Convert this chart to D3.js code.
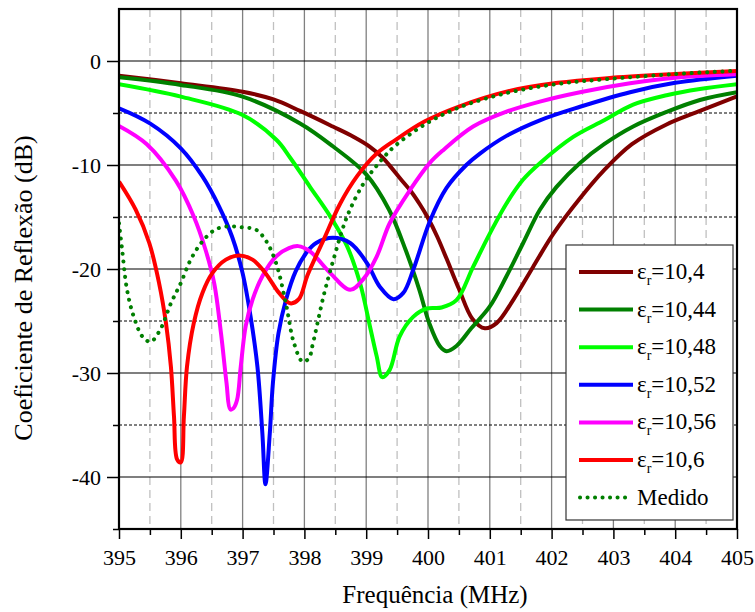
<!DOCTYPE html>
<html><head><meta charset="utf-8">
<script src="https://cdn.jsdelivr.net/npm/d3@7"></script>
<style>body{margin:0;background:#fff}svg{display:block}text{font-family:"Liberation Serif","Times New Roman",serif;fill:#000}</style>
</head><body>
<svg id="c" width="755" height="612"></svg>
<script>
// ---- data ----
const xTicks = [395,396,397,398,399,400,401,402,403,404,405];
const yTicks = [0,-10,-20,-30,-40];
const legendLabels = ["10,4","10,44","10,48","10,52","10,56","10,6"];
const seriesColors = ["#800000","#008000","#00ff00","#0000ff","#ff00ff","#ff0000"];
const measuredLabel = "Medido";

const er104 = [[395,-1.41],[396,-2.14],[397,-2.95],[397.5,-3.7],[397.93,-4.8],[398.46,-6.3],[398.8,-7.3],[399.05,-8.2],[399.25,-9.2],[399.4,-10.2],[399.55,-11.3],[399.72,-12.5],[399.87,-13.8],[400.0,-15.1],[400.15,-16.9],[400.3,-19.0],[400.5,-21.9],[400.72,-24.8],[400.92,-25.7],[401.11,-25.2],[401.38,-22.96],[401.7,-19.8],[402.03,-16.6],[402.46,-13.2],[402.85,-10.5],[403.3,-8.0],[403.86,-6.1],[404.4,-4.8],[405,-3.4]];
const er1044 = [[395,-1.57],[396,-2.3],[397,-3.43],[397.93,-6.0],[398.46,-8.2],[399,-10.9],[399.37,-14.3],[399.64,-18.2],[399.86,-22.0],[400.02,-25.2],[400.19,-27.4],[400.3,-27.9],[400.46,-27.4],[400.7,-25.7],[401.0,-23.6],[401.27,-20.7],[401.54,-17.5],[401.81,-14.3],[402.08,-12.1],[402.46,-9.8],[402.85,-8.0],[403.32,-6.3],[403.86,-4.9],[404.4,-3.75],[405,-3.0]];
const er1048 = [[395,-2.24],[396,-3.43],[397,-5.2],[397.55,-7.6],[397.77,-9.3],[398.09,-12.1],[398.42,-14.96],[398.69,-17.8],[398.9,-21.35],[399.06,-25.5],[399.17,-28.4],[399.26,-30.4],[399.38,-29.7],[399.54,-26.5],[399.76,-24.6],[399.98,-23.8],[400.22,-23.7],[400.46,-23.0],[400.73,-19.8],[401.0,-16.6],[401.27,-13.7],[401.54,-11.4],[401.81,-9.83],[402.35,-7.3],[402.85,-5.7],[403.32,-4.2],[403.86,-3.3],[404.4,-2.7],[405,-2.24]];
const er1052 = [[395,-4.55],[395.5,-6.0],[396,-8.4],[396.35,-11.1],[396.62,-14.0],[396.83,-16.9],[397.0,-20.4],[397.13,-24.6],[397.24,-29.4],[397.32,-35.8],[397.37,-40.7],[397.44,-35.8],[397.49,-31.0],[397.58,-26.2],[397.70,-23.0],[397.86,-20.2],[398.05,-18.3],[398.19,-17.5],[398.46,-17.0],[398.74,-17.5],[399.01,-19.4],[399.22,-21.7],[399.44,-22.9],[399.6,-22.3],[399.76,-20.1],[400.03,-15.4],[400.3,-12.2],[400.62,-10.0],[400.84,-8.9],[401.27,-7.2],[401.81,-5.7],[402.46,-4.4],[403.27,-3.0],[404,-2.1],[405,-1.41]];
const er1056 = [[395,-6.24],[395.45,-8.0],[395.92,-11.5],[396.21,-14.95],[396.40,-18.15],[396.54,-21.35],[396.65,-26.16],[396.74,-30.96],[396.8,-33.5],[396.85,-33.4],[396.91,-32.6],[396.97,-29.4],[397.05,-25.5],[397.16,-22.96],[397.32,-20.7],[397.54,-18.8],[397.75,-18.0],[397.9,-17.8],[398.09,-18.3],[398.42,-20.4],[398.74,-22.0],[398.95,-21.0],[399.17,-18.8],[399.38,-15.6],[399.71,-12.4],[400.03,-9.8],[400.25,-8.55],[400.73,-6.3],[401.27,-4.87],[401.81,-3.9],[402.46,-3.0],[403.27,-2.14],[404,-1.6],[405,-1.28]];
const er106 = [[395,-11.6],[395.27,-14.3],[395.49,-17.5],[395.65,-21.4],[395.76,-25.2],[395.84,-29.4],[395.89,-34.2],[395.94,-38.3],[396.0,-38.6],[396.05,-34.2],[396.1,-29.4],[396.21,-25.2],[396.35,-22.3],[396.51,-20.4],[396.73,-19.1],[396.94,-18.7],[397.16,-19.1],[397.37,-20.4],[397.59,-22.3],[397.77,-23.3],[397.91,-22.9],[398.05,-20.6],[398.31,-17.2],[398.58,-13.7],[398.85,-11.1],[399.17,-8.9],[399.47,-7.6],[399.95,-5.8],[400.49,-4.4],[401.3,-2.9],[402.1,-2.1],[402.9,-1.65],[404.0,-1.25],[405.0,-0.95]];
const medido = [[395,-15.6],[395.05,-18.1],[395.13,-22.0],[395.24,-24.6],[395.38,-26.5],[395.51,-27.0],[395.67,-25.8],[395.84,-23.3],[396.0,-21.35],[396.16,-19.1],[396.35,-17.35],[396.56,-16.2],[396.78,-15.9],[397.0,-16.0],[397.21,-16.2],[397.37,-17.2],[397.54,-19.4],[397.7,-23.3],[397.83,-27.1],[397.97,-28.9],[398.07,-28.6],[398.14,-27.1],[398.31,-22.6],[398.47,-19.1],[398.69,-14.96],[398.96,-11.75],[399.22,-9.7],[399.46,-8.2],[399.95,-6.1],[400.49,-4.5],[401.3,-3.04],[402.11,-2.2],[402.92,-1.73],[404.0,-1.25],[405,-0.93]];

const seriesList = [er104, er1044, er1048, er1052, er1056, er106];

// ---- layout ----
const L = 119, R = 737, T = 9, B = 529;
const svg = d3.select("#c");
const x = d3.scaleLinear().domain([395,405]).range([L,R]);
const y = d3.scaleLinear().domain([-45,5]).range([B,T]);

svg.append("defs").append("clipPath").attr("id","clip")
  .append("rect").attr("x",L).attr("y",T).attr("width",R-L).attr("height",B-T);

// grid
const g = svg.append("g");
const halfX = d3.range(395.5,405,1);
const intX = d3.range(396,405,1);
g.selectAll(".vh").data(halfX).join("line")
  .attr("x1",d=>x(d)).attr("x2",d=>x(d)).attr("y1",T).attr("y2",B)
  .attr("stroke","#c0c0c0").attr("stroke-width",1.3).attr("stroke-dasharray","8,5");
g.selectAll(".vi").data(intX).join("line")
  .attr("x1",d=>x(d)).attr("x2",d=>x(d)).attr("y1",T).attr("y2",B)
  .attr("stroke","#808080").attr("stroke-width",1.3);
const minorY = [0,-10,-20,-30,-40].map(v=>v-5);
g.selectAll(".hm").data(minorY).join("line")
  .attr("x1",L).attr("x2",R).attr("y1",d=>y(d)).attr("y2",d=>y(d))
  .attr("stroke","#000").attr("stroke-width",1).attr("stroke-dasharray","3,2");
g.selectAll(".hM").data(yTicks).join("line")
  .attr("x1",L).attr("x2",R).attr("y1",d=>y(d)).attr("y2",d=>y(d))
  .attr("stroke","#000").attr("stroke-width",1.2);

// curves
const line = d3.line().x(d=>x(d[0])).y(d=>y(d[1])).curve(d3.curveCatmullRom.alpha(0.5));
const cg = svg.append("g").attr("clip-path","url(#clip)");
seriesList.forEach((s,i)=>{
  cg.append("path").attr("d",line(s)).attr("fill","none")
    .attr("stroke",seriesColors[i]).attr("stroke-width",4).attr("stroke-linejoin","round");
});
cg.append("path").attr("d",line(medido)).attr("fill","none")
  .attr("stroke","#007f00").attr("stroke-width",4).attr("stroke-linecap","round")
  .attr("stroke-dasharray","0.1,7.6");

// axes
const fmt = d => String(d);
const xAxis = d3.axisBottom(x).tickValues(xTicks).tickSize(10).tickPadding(10).tickFormat(fmt);
const ax = svg.append("g").attr("transform",`translate(0,${B})`).call(xAxis);
ax.selectAll("line").attr("stroke-width",1.5);
svg.append("g").attr("transform",`translate(0,${B})`)
  .call(d3.axisBottom(x).tickValues(halfX).tickSize(6).tickFormat(""))
  .call(a=>a.select(".domain").remove()).selectAll("line").attr("stroke-width",1.5);
const yAxis = d3.axisLeft(y).tickValues(yTicks).tickSize(12).tickPadding(6).tickFormat(fmt);
const ay = svg.append("g").attr("transform",`translate(${L},0)`).call(yAxis);
ay.selectAll("line").attr("stroke-width",1.5);
svg.append("g").attr("transform",`translate(${L},0)`)
  .call(d3.axisLeft(y).tickValues(minorY).tickSize(6).tickFormat(""))
  .call(a=>a.select(".domain").remove()).selectAll("line").attr("stroke-width",1.5);
[ax,ay].forEach(a=>{a.select(".domain").remove(); a.attr("font-family",null); a.selectAll("text").attr("font-size",22).attr("fill","#000");});

// frame
svg.append("rect").attr("x",L).attr("y",T).attr("width",R-L).attr("height",B-T)
  .attr("fill","none").attr("stroke","#000").attr("stroke-width",2.2);

// titles
svg.append("text").attr("x",435).attr("y",603).attr("text-anchor","middle").attr("font-size",25).text("Frequência (MHz)");
svg.append("text").attr("transform","translate(32,288) rotate(-90)").attr("text-anchor","middle").attr("font-size",26).text("Coeficiente de Reflexão (dB)");

// legend
const lg = svg.append("g");
lg.append("rect").attr("x",566).attr("y",245).attr("width",167).attr("height",275)
  .attr("fill","#fff").attr("stroke","#333").attr("stroke-width",1.2);
const rowY = i => 272 + i*37.6;
legendLabels.forEach((lab,i)=>{
  lg.append("line").attr("x1",579).attr("x2",633).attr("y1",rowY(i)).attr("y2",rowY(i))
    .attr("stroke",seriesColors[i]).attr("stroke-width",4);
  const t = lg.append("text").attr("x",637).attr("y",rowY(i)+7).attr("font-size",23);
  t.append("tspan").text("ε");
  t.append("tspan").attr("font-size",14).attr("dy",6).text("r");
  t.append("tspan").attr("dy",-6).text("="+lab);
});
const mi = 6;
lg.append("line").attr("x1",580).attr("x2",632).attr("y1",rowY(mi)).attr("y2",rowY(mi))
  .attr("stroke","#007f00").attr("stroke-width",4).attr("stroke-linecap","round").attr("stroke-dasharray","0.1,7.4");
lg.append("text").attr("x",637).attr("y",rowY(mi)+7).attr("font-size",23).text(measuredLabel);
</script>
</body></html>
